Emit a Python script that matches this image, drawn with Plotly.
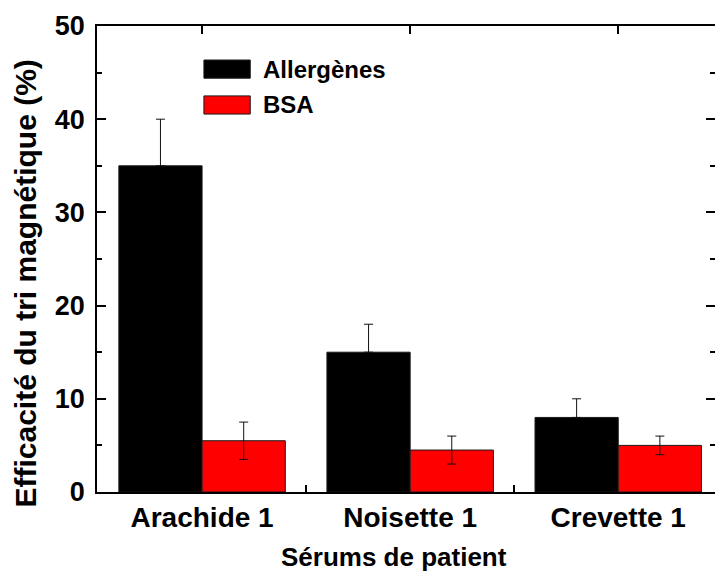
import plotly.graph_objects as go

categories = ["Arachide 1", "Noisette 1", "Crevette 1"]
series_names = ["Allergènes", "BSA"]
allergen_values = [35, 15, 8]
allergen_errors_plus = [5, 3, 2]
allergen_errors_minus = [0, 0, 0]
bsa_values = [5.5, 4.5, 5]
bsa_errors = [2, 1.5, 1]
colors = ["#000000", "#ff0000"]
x_title = "Sérums de patient"
y_title = "Efficacité du tri magnétique (%)"

xpos = list(range(len(categories)))
xrange = [-0.505, 2.465]

fig = go.Figure()
for name, vals, eplus, eminus, col in [
    (series_names[0], allergen_values, allergen_errors_plus, allergen_errors_minus, colors[0]),
    (series_names[1], bsa_values, bsa_errors, bsa_errors, colors[1]),
]:
    fig.add_trace(go.Bar(
        x=xpos, y=vals, name=name,
        marker=dict(color=col, line=dict(color="#1a1a1a", width=1)),
        error_y=dict(type="data", array=eplus, arrayminus=eminus, symmetric=False,
                     visible=True, color="#111111", thickness=1, width=4.5),
        showlegend=False,
    ))

# invisible trace for top axis ticks
fig.add_trace(go.Scatter(x=xpos, y=[None]*3, xaxis="x2", showlegend=False,
                         hoverinfo="skip"))

font = dict(family="Liberation Sans, Arial, sans-serif", color="#000000")

fig.update_layout(
    width=715, height=579,
    margin=dict(l=97, r=0, t=26, b=87),
    paper_bgcolor="white", plot_bgcolor="white",
    barmode="group", bargap=0.2, bargroupgap=0,
    showlegend=False,
    xaxis=dict(
        range=xrange, automargin=False,
        tickmode="array", tickvals=xpos, ticktext=[f"<b>{c}</b>" for c in categories],
        ticks="", showline=True, linecolor="#000", linewidth=1.5,
        tickfont=dict(size=28, **font), ticklabelstandoff=0,
        minor=dict(tickmode="array", tickvals=[0.5, 1.5], ticks="inside",
                   ticklen=7, tickcolor="#000", tickwidth=1.5),
        showgrid=False, zeroline=False,
    ),
    xaxis2=dict(
        overlaying="x", side="top", range=xrange,
        tickmode="array", tickvals=xpos, showticklabels=False,
        ticks="inside", ticklen=8, tickcolor="#000", tickwidth=1.5,
        showline=True, linecolor="#000", linewidth=1.5,
        showgrid=False, zeroline=False,
    ),
    yaxis=dict(
        range=[0, 50], dtick=10, tick0=0, automargin=False,
        ticks="inside", ticklen=9, tickcolor="#000", tickwidth=1.5,
        minor=dict(dtick=5, ticks="inside", ticklen=5, tickcolor="#000", tickwidth=1.5),
        showline=True, linecolor="#000", linewidth=1.5, mirror="ticks",
        tickfont=dict(size=27, **font), ticklabelstandoff=5,
        tickprefix="<b>", ticksuffix="</b>",
        showgrid=False, zeroline=False,
    ),
)

# axis titles
fig.add_annotation(xref="paper", yref="paper", x=0.481, y=-0.139,
                   xanchor="center", yanchor="middle", showarrow=False,
                   text=f"<b>{x_title}</b>", font=dict(size=26, **font))
fig.add_annotation(xref="paper", yref="paper", x=-0.116, y=0.448,
                   xanchor="center", yanchor="middle", showarrow=False, textangle=-90,
                   text=f"<b>{y_title}</b>", font=dict(size=30, **font))

# custom legend with large swatches
legend_y = [(0.927, 0.888), (0.850, 0.811)]
for name, col, (y1, y0) in zip(series_names, colors, legend_y):
    fig.add_shape(type="rect", xref="paper", yref="paper",
                  x0=0.173, x1=0.248, y0=y0, y1=y1,
                  fillcolor=col, line=dict(color="#1a1a1a", width=1))
    fig.add_annotation(xref="paper", yref="paper", x=0.265, y=(y0 + y1) / 2,
                       xanchor="left", yanchor="middle", showarrow=False,
                       text=f"<b>{name}</b>", font=dict(size=24, **font))

fig.write_html("out.html", config={"displayModeBar": False},
               post_script="document.body.style.margin='0';")
